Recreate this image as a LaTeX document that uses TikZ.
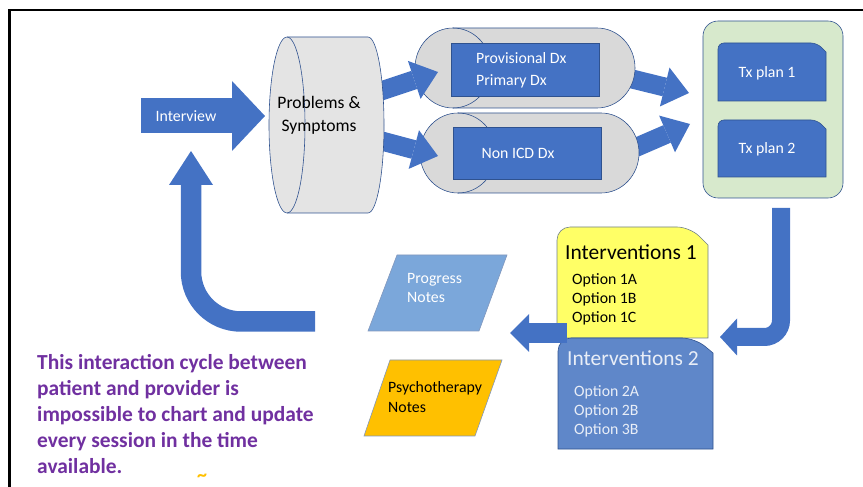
\documentclass[tikz,border=0pt]{standalone}
\usepackage{fontspec}
\setmainfont{Carlito}
\usepackage{tikz}
\usetikzlibrary{arrows.meta,fit}
\definecolor{boxblue}{HTML}{4472C4}
\definecolor{edgeblue}{HTML}{2F528F}
\definecolor{cylgray}{HTML}{E4E4E4}
\definecolor{pillgray}{HTML}{D9D9D9}
\definecolor{plangreen}{HTML}{D7E9CC}
\definecolor{intyellow}{HTML}{FFFF66}
\definecolor{yellowedge}{HTML}{70808A}
\definecolor{intblue}{HTML}{5F87C9}
\definecolor{lighttext}{HTML}{E9EEF7}
\definecolor{noteblue}{HTML}{7BA7DA}
\definecolor{noteorange}{HTML}{FFC000}
\definecolor{purpletext}{HTML}{7030A0}
\tikzset{
  lbl/.style={inner sep=0pt, align=left, font=\fontsize{13.5}{16.2}\selectfont},
  wlbl/.style={lbl, text=white},
  edge/.style={draw=edgeblue, line width=0.5pt},
  barrow/.style n args={3}{draw=boxblue, line width=#1, -{Triangle[length=#2, width=#3, line width=0pt]}},
  dxbox/.style={edge, fill=boxblue, inner sep=0pt}
}
\begin{document}
\begin{tikzpicture}[x=0.03cm, y=-0.03cm]
\useasboundingbox (0,0) rectangle (863,487);
\draw[line width=1.9pt] (9.5,487) -- (9.5,10) -- (863,10);

\coordinate (ivtail) at (141,116);
\coordinate (ivtip) at (265,116);
\coordinate (upl) at (378,92);
\coordinate (upr) at (438,72);
\coordinate (lol) at (378,140);
\coordinate (lor) at (438,156);
\coordinate (pdxout) at (628,78);
\coordinate (ndxout) at (630,150);
\coordinate (planin1) at (689,93);
\coordinate (planin2) at (690,124);
\coordinate (bttail) at (781,208);
\coordinate (bttip) at (720,337);
\coordinate (lftail) at (567,333);
\coordinate (lftip) at (510,333);
\coordinate (utail) at (315,321.5);
\coordinate (utip) at (191,151);

\draw[barrow={0.57cm}{0.75cm}{1.2cm}] (pdxout) -- (planin1);
\draw[barrow={0.57cm}{0.75cm}{1.2cm}] (ndxout) -- (planin2);

\foreach \lx/\rx/\cy in {453/597/68,458/601/153}{
  \filldraw[edge, fill=pillgray] (\lx,\cy-40) -- (\rx,\cy-40) arc[start angle=-90, end angle=90, x radius=38, y radius=40]
    -- (\lx,\cy+40) arc[start angle=90, end angle=270, x radius=38, y radius=40] -- cycle;
  \draw[edge] (\lx,\cy-40) arc[start angle=-90, end angle=90, x radius=38, y radius=40];
}
\node[dxbox, fit={(451,43) (599,96)}] (pdx) {};
\node[wlbl, anchor=west, font=\fontsize{13.5}{18.8}\selectfont] (pdxt) at (476,70) {Provisional Dx\\Primary Dx};
\node[dxbox, fit={(453,127) (601,179)}] (ndx) {};
\node[wlbl] (ndxt) at (518,153) {Non ICD Dx};

\draw[barrow={0.57cm}{0.75cm}{1.2cm}] (upl) -- (upr);
\draw[barrow={0.57cm}{0.75cm}{1.2cm}] (lol) -- (lor);

\filldraw[edge, fill=cylgray] (287,37) -- (368,37) arc[start angle=-90, end angle=90, x radius=16, y radius=88]
  -- (287,213) arc[start angle=90, end angle=270, x radius=18, y radius=88] -- cycle;
\draw[edge] (287,37) arc[start angle=-90, end angle=90, x radius=18, y radius=88];
\node[lbl, align=center, font=\fontsize{15}{19.6}\selectfont] (ps) at (319,115) {Problems \&\\Symptoms};

\draw[barrow={1.05cm}{0.99cm}{2.1cm}] (ivtail) -- (ivtip);
\node[wlbl] (iv) at (186,116) {Interview};

\node[edge, fill=plangreen, rounded corners=0.45cm, inner sep=0pt, fit={(703,21) (843,198)}] (plans) {};
\foreach \t/\b/\n in {43/101/1,120/177/2}{
  \filldraw[edge, fill=boxblue] (718,\b) [rounded corners=0.18cm] |- (817,\t) [sharp corners] -- (826,\t+9) -- (826,\b) -- cycle;
  \node[wlbl] (tx\n) at (767,{(\t+\b)/2+1}) {Tx plan \n};
}

\draw[barrow={0.54cm}{0.51cm}{1.11cm}, rounded corners=0.5cm] (bttail) |- (bttip);

\filldraw[draw=yellowedge, line width=0.5pt, fill=intyellow] (557,338) [rounded corners=0.39cm] |- (690,227) [sharp corners] -- (708,245) -- (708,338) -- cycle;
\node[lbl, anchor=west, font=\fontsize{18.3}{22}\selectfont] (int1) at (565,252) {Interventions 1};
\node[lbl, anchor=west] (opt1) at (572,299) {Option 1A\\Option 1B\\Option 1C};

\filldraw[edge, fill=intblue] (558,449) [rounded corners=0.39cm] |- (695,338) [sharp corners] -- (713,353) -- (713,449) -- cycle;
\node[lbl, anchor=west, text=lighttext, font=\fontsize{18.3}{22}\selectfont] (int2) at (567,358) {Interventions 2};
\node[lbl, anchor=west, text=lighttext] (opt2) at (574,411) {Option 2A\\Option 2B\\Option 3B};

\draw[barrow={0.6cm}{0.57cm}{1.14cm}] (lftail) -- (lftip);

\filldraw[draw=edgeblue!60, line width=0.5pt, fill=noteblue] (368,331) -- (397,255) -- (507,255) -- (479,331) -- cycle;
\node[wlbl, anchor=west] (prog) at (407,287.5) {Progress\\Notes};
\filldraw[draw=edgeblue!60, line width=0.5pt, fill=noteorange] (364,436) -- (390,360) -- (502,360) -- (475,436) -- cycle;
\node[lbl, anchor=west, font=\fontsize{13.5}{17}\selectfont] (psy) at (388,397) {Psychotherapy\\Notes};

\draw[barrow={0.615cm}{1.02cm}{1.32cm}, rounded corners=1.5cm] (utail) -| (utip);

\node[anchor=west, inner sep=0pt, align=left, text=purpletext, font=\fontsize{18.3}{22.1}\selectfont\bfseries] (note) at (37,414.3)
  {This interaction cycle between\\patient and provider is\\impossible to chart and update\\every session in the time\\available.};
\node[inner sep=0pt, text=noteorange, font=\fontsize{17}{17}\selectfont\bfseries] (tl) at (202,478) {\textasciitilde};
\end{tikzpicture}
\end{document}
